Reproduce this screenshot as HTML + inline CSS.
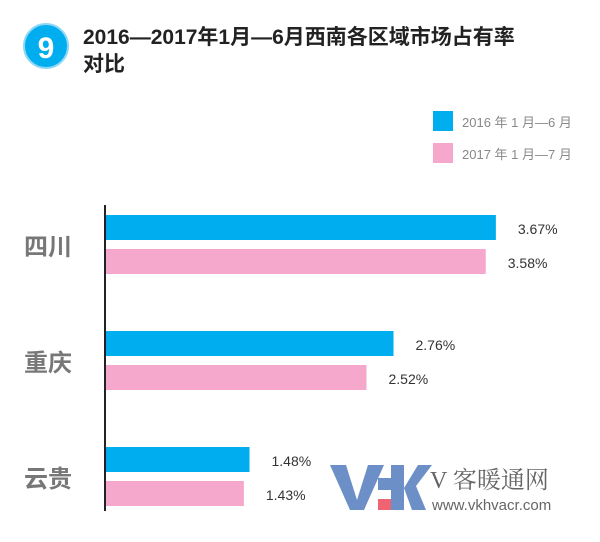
<!DOCTYPE html>
<html><head><meta charset="utf-8"><style>
body{margin:0;width:600px;height:537px;background:#fff;overflow:hidden;font-family:"Liberation Sans","Noto Sans CJK SC",sans-serif;}
</style></head><body>
<svg width="600" height="537" xmlns="http://www.w3.org/2000/svg">
<circle cx="46" cy="46" r="22" fill="#00aeef" stroke="#8fd8f5" stroke-width="2"/>
<text x="46" y="58" text-anchor="middle" font-size="30" font-weight="bold" fill="#fff">9</text>
<text x="83" y="44" font-size="21" font-weight="bold" fill="#222" font-family="'Liberation Sans','Noto Sans CJK SC',sans-serif">2016—2017年1月—6月西南各区域市场占有率</text>
<text x="83" y="71" font-size="21" font-weight="bold" fill="#222">对比</text>
<rect x="433" y="111" width="20" height="20" fill="#00aeef"/>
<text x="462" y="127" font-size="13" fill="#888">2016 年 1 月—6 月</text>
<rect x="433" y="143" width="20" height="20" fill="#f5a8cc"/>
<text x="462" y="159" font-size="13" fill="#888">2017 年 1 月—7 月</text>
<line x1="105" y1="205" x2="105" y2="511" stroke="#222" stroke-width="2"/>
<g id="bars"></g>
<g>
<polygon points="330,465 346,465 357,500 368,465 384,465 364,510 350,510" fill="#6b8fc6"/>
<rect x="378" y="478" width="14" height="12" fill="#6b8fc6"/>
<rect x="378" y="499" width="15" height="11" fill="#f06472"/>
<rect x="391" y="465" width="13" height="45" fill="#6b8fc6"/>
<polygon points="404,488 418,465 432,465 416,486 426,510 412,510" fill="#6b8fc6"/>
<text x="430" y="488" font-size="24" fill="#666" font-family="'Liberation Serif','Noto Serif CJK SC',serif">V 客暖通网</text>
<text x="432" y="510" font-size="15" fill="#666">www.vkhvacr.com</text>
</g>
</svg>
<script>
const categories=["四川","重庆","云贵"];
const values2016=[3.67,2.76,1.48];
const values2017=[3.58,2.52,1.43];
const labels2016=["3.67%","2.76%","1.48%"];
const labels2017=["3.58%","2.52%","1.43%"];
const NS="http://www.w3.org/2000/svg";
const g=document.getElementById("bars");
function xScale(v){return 83+112.5*v;}
function yBand(i){return 215+i*116;}
function mk(tag,attrs){const e=document.createElementNS(NS,tag);for(const k in attrs)e.setAttribute(k,attrs[k]);g.appendChild(e);return e;}
categories.forEach((c,i)=>{
  const y=yBand(i);
  const t=mk("text",{x:24,y:y+40,"font-size":24,"font-weight":"bold",fill:"#777"});
  t.textContent=c;
  
  
  [[values2016,labels2016,"#00aeef",0],[values2017,labels2017,"#f5a8cc",34]].forEach(([vals,labs,col,off])=>{
    const w=xScale(vals[i])-106;
    const r=mk("rect",{x:106,y:y+off,width:w,height:25,fill:col});
    
    
    const lt=mk("text",{x:106+w+22,y:y+off+19,"font-size":14,fill:"#333"});
    lt.textContent=labs[i];
    
    
  });
});
</script>
</body></html>
